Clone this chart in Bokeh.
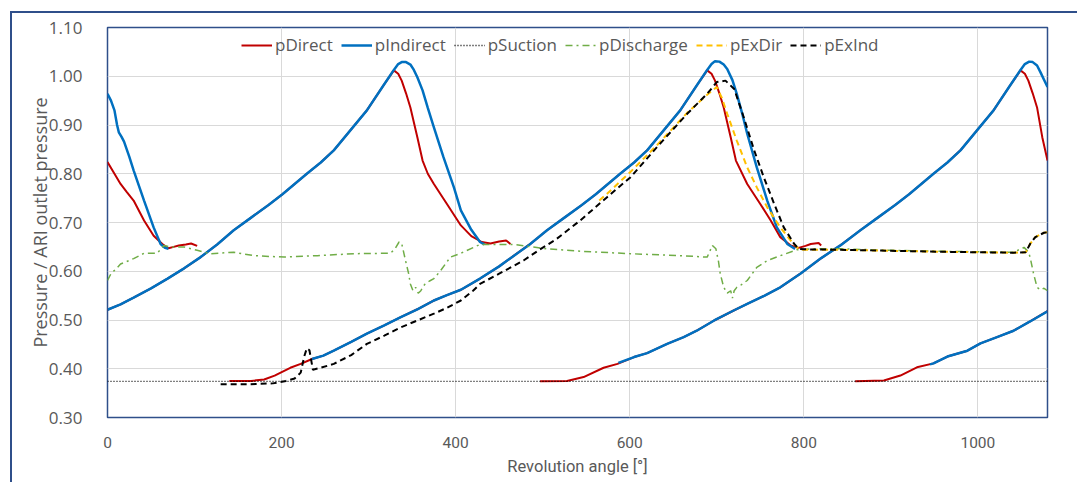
import math
from bokeh.plotting import figure
from bokeh.models import ColumnDataSource, FixedTicker, NumeralTickFormatter
from bokeh.layouts import column
from bokeh.embed import file_html
from bokeh.resources import INLINE

NAN = float("nan")

# ---------------- data ----------------
# pDirect: several cycles, separated by NaN
direct_deg = [0, 8, 15, 22, 30, 42, 53, 63, 70, 76, 82, 90, 96, 103, NAN,
              0, 15, 30, 50, 69, 88, 107, 126, 145, 165, 185, 201, 215, 229, 245, 260, 279, 298, 317, 329, 334, 338,
              343, 348, 356, 362, 368, 375, 390, 406, 418, 430, 440, 450, 458, 463, NAN,
              140, 165, 180, 192, 210, 222, 235, 248, 260, 280, 298, 318, 337, 356, 375, 390, 406, 428, 450, 467, 485,
              505, 525, 545, 561, 575, 589, 605, 620, 639, 658, 677, 689, 694, 698, 703, 708, 716, 722, 735, 750, 762,
              773, 785, 794, 802, 808, 817, 820, NAN,
              497, 528, 547, 570, 586, 605, 620, 643, 662, 677, 697, 720, 735, 755, 773, 796, 820, 842, 865, 885, 905,
              921, 935, 949, 965, 980, 999, 1018, 1037, 1049, 1054, 1058, 1063, 1068, 1074, 1080, NAN,
              859, 892, 911, 930, 949, 965, 988, 1003, 1022, 1041, 1060, 1080]
direct_val = [0.824, 0.800, 0.779, 0.763, 0.745, 0.704, 0.673, 0.656, 0.647, 0.650, 0.653, 0.655, 0.657, 0.652, NAN,
              0.521, 0.532, 0.546, 0.565, 0.585, 0.606, 0.629, 0.655, 0.684, 0.710, 0.736, 0.758, 0.779, 0.800, 0.823,
              0.848, 0.889, 0.930, 0.981, 1.012, 1.005, 0.991, 0.965, 0.936, 0.875, 0.827, 0.800, 0.779, 0.738, 0.694,
              0.672, 0.660, 0.657, 0.661, 0.663, 0.656, NAN,
              0.375, 0.375, 0.378, 0.386, 0.402, 0.410, 0.420, 0.427, 0.437, 0.455, 0.472, 0.489, 0.506, 0.522, 0.540,
              0.551, 0.562, 0.585, 0.610, 0.632, 0.655, 0.684, 0.710, 0.736, 0.758, 0.779, 0.800, 0.823, 0.848, 0.889,
              0.930, 0.981, 1.012, 1.005, 0.991, 0.965, 0.936, 0.875, 0.827, 0.779, 0.738, 0.704, 0.670, 0.653, 0.648,
              0.652, 0.656, 0.658, 0.653, NAN,
              0.3745, 0.375, 0.383, 0.402, 0.410, 0.424, 0.432, 0.451, 0.465, 0.478, 0.499, 0.520, 0.533, 0.550, 0.567,
              0.595, 0.627, 0.653, 0.684, 0.710, 0.736, 0.758, 0.779, 0.800, 0.823, 0.848, 0.889, 0.930, 0.981, 1.012,
              1.005, 0.991, 0.965, 0.936, 0.875, 0.827, NAN,
              0.3745, 0.376, 0.386, 0.403, 0.411, 0.425, 0.437, 0.452, 0.465, 0.478, 0.497, 0.518]

indirect_deg = [0, 4, 8, 11, 13, 16, 19, 25, 30, 42, 53, 61, 66, 70, NAN,
                0, 15, 30, 50, 69, 88, 107, 126, 145, 165, 185, 201, 215, 229, 245, 260, 279, 298, 317, 329, 334, 338,
                343, 348, 352, 356, 362, 368, 375, 386, 398, 406, 418, 428, 433, NAN,
                235, 248, 260, 280, 298, 318, 337, 356, 375, 390, 406, 428, 450, 467, 485, 505, 525, 545, 561, 575, 589,
                605, 620, 639, 658, 677, 689, 694, 698, 703, 708, 712, 718, 723, 729, 735, 746, 758, 769, 781, 790, NAN,
                587, 605, 620, 643, 662, 677, 697, 720, 735, 755, 773, 796, 820, 842, 865, 885, 905, 921, 935, 949, 965,
                980, 999, 1018, 1037, 1049, 1054, 1059, 1063, 1068, 1072, 1076, 1080, NAN,
                945, 949, 965, 988, 1003, 1022, 1041, 1060, 1080]
indirect_val = [0.964, 0.950, 0.930, 0.900, 0.885, 0.876, 0.866, 0.835, 0.807, 0.745, 0.690, 0.656, 0.648, 0.646, NAN,
                0.521, 0.532, 0.546, 0.565, 0.585, 0.606, 0.629, 0.655, 0.684, 0.710, 0.736, 0.758, 0.779, 0.800, 0.823,
                0.848, 0.889, 0.930, 0.981, 1.013, 1.025, 1.029, 1.029, 1.024, 1.013, 0.998, 0.971, 0.935, 0.895, 0.834,
                0.772, 0.725, 0.685, 0.660, 0.655, NAN,
                0.420, 0.427, 0.437, 0.455, 0.472, 0.489, 0.506, 0.522, 0.540, 0.551, 0.562, 0.585, 0.610, 0.632, 0.655,
                0.684, 0.710, 0.736, 0.758, 0.779, 0.800, 0.823, 0.848, 0.889, 0.930, 0.981, 1.013, 1.025, 1.031, 1.030,
                1.024, 1.015, 0.992, 0.964, 0.925, 0.882, 0.813, 0.745, 0.690, 0.656, 0.646, NAN,
                0.412, 0.424, 0.432, 0.451, 0.465, 0.478, 0.499, 0.520, 0.533, 0.550, 0.567, 0.595, 0.627, 0.653, 0.684,
                0.710, 0.736, 0.758, 0.779, 0.800, 0.823, 0.848, 0.889, 0.930, 0.981, 1.013, 1.025, 1.030, 1.029, 1.022,
                1.008, 0.993, 0.978, NAN,
                0.409, 0.411, 0.425, 0.437, 0.452, 0.465, 0.478, 0.497, 0.518]

suction_deg = [0, 180, 360, 540, 720, 900, 1080]
suction_val = [0.374, 0.374, 0.374, 0.374, 0.374, 0.374, 0.374]

discharge_deg = [0, 4, 10, 15, 22, 30, 42, 57, 65, 72, 88, 103, 118, 145, 168, 203, 241, 283, 325, 330, 335, 338, 342,
                 346, 348, 351, 354, 357, 360, 363, 365, 370, 375, 383, 394, 406, 428, 467, 505, 543, 601, 658, 689,
                 695, 699, 702, 704, 708, 712, 716, 718, 720, 723, 728, 735, 746, 758, 773, 792, 811, 842, 900, 957,
                 1000, 1041, 1053, 1058, 1060, 1064, 1068, 1072, 1076, 1080]
discharge_val = [0.581, 0.595, 0.605, 0.615, 0.620, 0.626, 0.637, 0.637, 0.653, 0.650, 0.650, 0.643, 0.636, 0.639,
                 0.632, 0.629, 0.632, 0.636, 0.637, 0.645, 0.660, 0.657, 0.625, 0.595, 0.574, 0.560, 0.567, 0.555,
                 0.560, 0.570, 0.574, 0.580, 0.585, 0.602, 0.629, 0.637, 0.655, 0.655, 0.646, 0.641, 0.636, 0.632,
                 0.629, 0.653, 0.646, 0.620, 0.595, 0.567, 0.555, 0.560, 0.545, 0.560, 0.567, 0.572, 0.581, 0.608,
                 0.622, 0.632, 0.644, 0.646, 0.646, 0.643, 0.641, 0.640, 0.639, 0.649, 0.640, 0.629, 0.595, 0.567,
                 0.562, 0.565, 0.560]

exdir_deg = [565, 574, 601, 631, 666, 689, 700, 706, 712, 723, 735, 746, 758, 773, 785, 794, 800, 842, 900, 957, 1000,
             1041, 1055, 1060, 1066, 1076, 1080]
exdir_val = [0.745, 0.759, 0.804, 0.858, 0.925, 0.962, 0.978, 0.955, 0.923, 0.868, 0.813, 0.772, 0.731, 0.690, 0.663,
             0.646, 0.644, 0.644, 0.642, 0.640, 0.639, 0.638, 0.639, 0.656, 0.670, 0.679, 0.680]

exind_deg = [130, 160, 190, 205, 215, 222, 226, 229, 232, 236, 245, 260, 280, 298, 318, 337, 356, 375, 390, 406, 420,
             428, 450, 478, 497, 515, 543, 574, 601, 631, 666, 689, 700, 710, 720, 731, 743, 754, 766, 777, 789, 794,
             800, 842, 900, 957, 1000, 1041, 1055, 1060, 1066, 1076, 1080]
exind_val = [0.368, 0.368, 0.370, 0.375, 0.380, 0.392, 0.425, 0.442, 0.438, 0.398, 0.402, 0.410, 0.428, 0.451, 0.468,
             0.485, 0.499, 0.513, 0.525, 0.540, 0.560, 0.574, 0.595, 0.622, 0.645, 0.665, 0.704, 0.752, 0.793, 0.854,
             0.923, 0.964, 0.988, 0.991, 0.974, 0.916, 0.848, 0.793, 0.738, 0.690, 0.656, 0.646, 0.645, 0.644, 0.642,
             0.640, 0.639, 0.638, 0.639, 0.656, 0.670, 0.679, 0.680]

x_ticks = [0, 200, 400, 600, 800, 1000]
y_ticks = [0.3, 0.4, 0.5, 0.6, 0.7, 0.8, 0.9, 1.0, 1.1]

# ---------------- figure ----------------
GRAY = "#595959"
p = figure(frame_width=940, frame_height=390, x_range=(0, 1080), y_range=(0.30, 1.10),
           output_backend="svg", toolbar_location=None,
           min_border_left=95, min_border_top=14, min_border_bottom=65, min_border_right=30)
p.background_fill_color = "white"
p.border_fill_color = "white"
p.outline_line_color = "#2F4F8A"
p.outline_line_width = 1.5

p.xaxis.ticker = FixedTicker(ticks=x_ticks)
p.yaxis.ticker = FixedTicker(ticks=y_ticks)
p.yaxis.formatter = NumeralTickFormatter(format="0.00")
for ax in (p.xaxis, p.yaxis):
    ax.axis_line_color = None
    ax.major_tick_line_color = None
    ax.minor_tick_line_color = None
    ax.major_label_text_color = GRAY
    ax.axis_label_text_color = GRAY
    ax.axis_label_text_font_style = "normal"
p.yaxis.major_label_text_font = "Open Sans"
p.yaxis.major_label_text_font_size = "17px"
p.yaxis.major_label_standoff = 19
p.yaxis.axis_label = "Pressure / ARI outlet pressure"
p.yaxis.axis_label_text_font = "Open Sans"
p.yaxis.axis_label_text_font_size = "18px"
p.yaxis.axis_label_standoff = -6
p.xaxis.major_label_text_font = "Roboto"
p.xaxis.major_label_text_font_size = "15.5px"
p.xaxis.major_label_standoff = 13
p.xaxis.axis_label = "Revolution angle [°]"
p.xaxis.axis_label_text_font = "Roboto"
p.xaxis.axis_label_text_font_size = "16.5px"
p.xaxis.axis_label_standoff = 6

p.xgrid.grid_line_color = "#D9D9D9"
p.ygrid.grid_line_color = "#D9D9D9"
p.xgrid.grid_line_width = 1
p.ygrid.grid_line_width = 1

def src(x, y):
    return ColumnDataSource(dict(x=x, y=y))

p.line("x", "y", source=src(direct_deg, direct_val), line_color="#C00000", line_width=2, legend_label="pDirect")
p.line("x", "y", source=src(indirect_deg, indirect_val), line_color="#0070C0", line_width=2.5, legend_label="pIndirect")
p.line("x", "y", source=src(suction_deg, suction_val), line_color="#000000", line_width=1.3, line_dash="1 2",
       legend_label="pSuction")
p.line("x", "y", source=src(discharge_deg, discharge_val), line_color="#70AD47", line_width=1.5, line_dash="7 4 2 4",
       legend_label="pDischarge")
p.line("x", "y", source=src(exdir_deg, exdir_val), line_color="#FFC000", line_width=2, line_dash="6 4",
       legend_label="pExDir")
p.line("x", "y", source=src(exind_deg, exind_val), line_color="#000000", line_width=2, line_dash="6 4",
       legend_label="pExInd")

lg = p.legend[0]
lg.orientation = "horizontal"
lg.location = (134, 361)
lg.border_line_alpha = 0
lg.background_fill_alpha = 0
lg.label_text_font = "Open Sans"
lg.label_text_font_size = "17px"
lg.label_text_color = GRAY
lg.glyph_width = 31
lg.glyph_height = 16
lg.label_standoff = 3
lg.spacing = 8
lg.padding = 0
lg.margin = 0

layout = column(p, styles={"border-top": "2px solid #2F4F8A", "border-left": "2px solid #2F4F8A",
                           "margin-top": "11px", "margin-left": "10px"})

open("out.html", "w").write(file_html(layout, INLINE))
